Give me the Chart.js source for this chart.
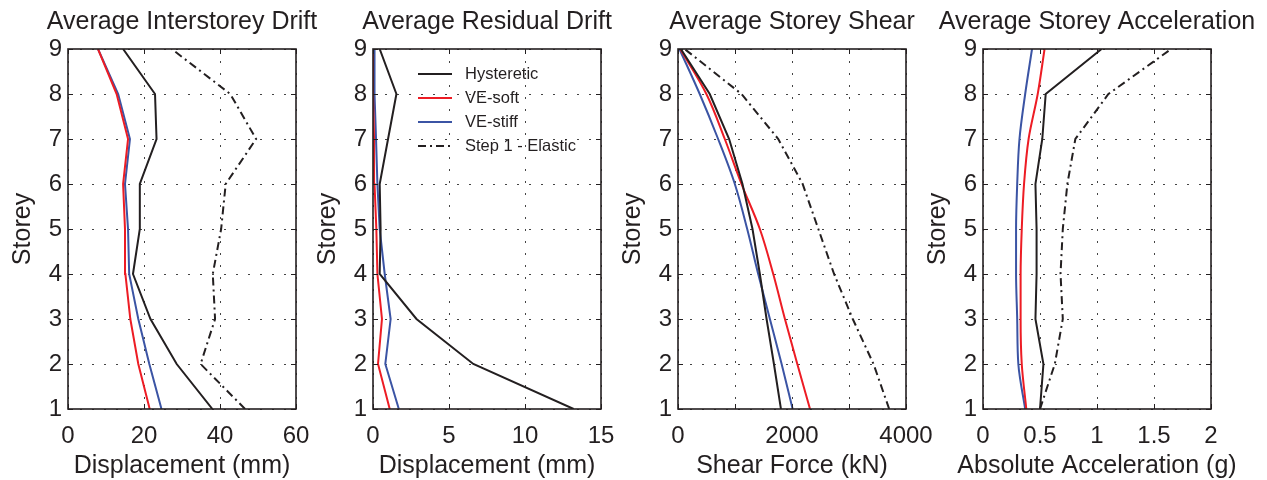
<!DOCTYPE html>
<html><head><meta charset="utf-8">
<script src="https://cdn.jsdelivr.net/npm/chart.js@4/dist/chart.umd.min.js"></script>
<style>
html,body{margin:0;padding:0;background:#fff;overflow:hidden;width:1267px;height:480px}
.p{position:absolute;top:0;width:340px;height:480px}
</style></head><body>
<div class="p" style="left:0"><canvas id="c1" width="340" height="480"></canvas></div>
<div class="p" style="left:305px"><canvas id="c2" width="340" height="480"></canvas></div>
<div class="p" style="left:610px"><canvas id="c3" width="340" height="480"></canvas></div>
<div class="p" style="left:915px"><canvas id="c4" width="340" height="480"></canvas></div>
<script>
// ---- data (storey 1..9) ----
const storeys = [1, 2, 3, 4, 5, 6, 7, 8, 9];
const seriesNames = ['Hysteretic', 'VE-soft', 'VE-stiff', 'Step 1 - Elastic'];
const panelTitles = ['Average Interstorey Drift', 'Average Residual Drift', 'Average Storey Shear', 'Average Storey Acceleration'];
const xTitles = ['Displacement (mm)', 'Displacement (mm)', 'Shear Force (kN)', 'Absolute Acceleration (g)'];

const driftHyst    = [38.0, 28.6, 21.7, 17.1, 18.9, 18.9, 23.3, 22.9, 14.5];
const driftSoft    = [21.5, 18.5, 16.4, 15.1, 15.0, 14.5, 15.8, 12.8, 7.9];
const driftStiff   = [24.6, 21.4, 18.5, 16.1, 15.8, 15.0, 16.3, 13.2, 7.9];
const driftElastic = [46.6, 34.9, 38.7, 38.1, 40.3, 41.5, 49.5, 42.7, 27.3];

const resHyst  = [13.2, 6.6, 2.86, 0.44, 0.5, 0.44, 0.99, 1.54, 0.44];
const resSoft  = [1.1, 0.33, 0.59, 0.29, 0.22, 0.1, 0.07, 0.0, 0.0];
const resStiff = [1.7, 0.81, 1.16, 0.77, 0.44, 0.29, 0.2, 0.1, 0.1];

const shearHyst    = [1806, 1683, 1554, 1436, 1307, 1131, 897, 557, 50];
const shearSoft    = [2316, 2093, 1876, 1671, 1436, 1114, 821, 498, 40];
const shearStiff   = [2011, 1818, 1612, 1407, 1214, 997, 704, 381, 25];
const shearElastic = [3705, 3430, 3066, 2738, 2462, 2187, 1759, 1114, 117];

const accHyst    = [0.50, 0.53, 0.46, 0.47, 0.47, 0.46, 0.52, 0.55, 1.04];
const accSoft    = [0.38, 0.34, 0.33, 0.33, 0.34, 0.36, 0.40, 0.48, 0.54];
const accStiff   = [0.37, 0.31, 0.30, 0.29, 0.29, 0.30, 0.32, 0.37, 0.43];
const accElastic = [0.50, 0.63, 0.70, 0.68, 0.70, 0.74, 0.81, 1.10, 1.65];

const xMax   = [60, 15, 4000, 2];
const xStep  = [20, 5, 1000, 0.5];
const xLabelEvery = [20, 5, 2000, 0.5];
const yTicks = [1, 9, 1];

// ---- styles ----
const FONT = '"Liberation Sans", Arial, Helvetica, sans-serif';
const INK = '#231f20';
const styles = [
  {color: '#231f20', dash: []},
  {color: '#ed1c24', dash: []},
  {color: '#3b54a4', dash: []},
  {color: '#231f20', dash: [8, 4, 2, 4]}
];

function mk(vals, k, smooth) {
  return {
    label: seriesNames[k],
    data: storeys.map((s, i) => ({x: vals[i], y: s})),
    borderColor: styles[k].color,
    borderDash: styles[k].dash,
    borderWidth: 2,
    pointRadius: 0,
    fill: false,
    tension: 0,
    cubicInterpolationMode: smooth ? 'monotone' : 'default'
  };
}

const framePlugin = {
  id: 'frame',
  afterDatasetsDraw(chart, args, opts) {
    const {ctx, chartArea: a, scales} = chart;
    ctx.save();
    ctx.strokeStyle = INK;
    ctx.lineWidth = 1;
    const L = 5;
    ctx.beginPath();
    scales.x.ticks.forEach(t => {
      const p = Math.round(scales.x.getPixelForValue(t.value)) + 0.5;
      ctx.moveTo(p, a.bottom); ctx.lineTo(p, a.bottom - L);
      ctx.moveTo(p, a.top); ctx.lineTo(p, a.top + L);
    });
    scales.y.ticks.forEach(t => {
      const p = Math.round(scales.y.getPixelForValue(t.value)) + 0.5;
      ctx.moveTo(a.left, p); ctx.lineTo(a.left + L, p);
      ctx.moveTo(a.right, p); ctx.lineTo(a.right - L, p);
    });
    ctx.stroke();
    ctx.lineWidth = 1.6;
    ctx.strokeRect(a.left, a.top, a.right - a.left, a.bottom - a.top);
    ctx.fillStyle = INK;
    ctx.font = '25px ' + FONT;
    ctx.textAlign = 'center';
    ctx.textBaseline = 'alphabetic';
    const cx = (a.left + a.right) / 2;
    ctx.fillText(opts.text, cx, 29);
    ctx.textBaseline = 'middle';
    ctx.fillText(opts.xtitle, cx, 466);
    if (opts.legend) {
      ctx.font = '16.5px ' + FONT;
      ctx.textAlign = 'left';
      ctx.textBaseline = 'middle';
      const x0 = a.left + 45, x1 = a.left + 79, tx = a.left + 92;
      chart.data.datasets.forEach((d, i) => {
        const y = a.top + 25 + i * 24;
        ctx.save();
        ctx.strokeStyle = d.borderColor;
        ctx.lineWidth = 2;
        ctx.setLineDash(d.borderDash || []);
        ctx.beginPath(); ctx.moveTo(x0, y); ctx.lineTo(x1, y); ctx.stroke();
        ctx.restore();
        ctx.fillStyle = INK;
        ctx.fillText(d.label, tx, y);
      });
    }
    ctx.restore();
  }
};

function makeChart(id, idx, datasets, legend) {
  const every = xLabelEvery[idx];
  new Chart(document.getElementById(id), {
    type: 'line',
    data: {datasets},
    options: {
      responsive: false,
      animation: false,
      indexAxis: 'y',
      layout: {padding: {top: 49, right: 340 - 296, left: 0, bottom: 0}},
      plugins: {
        legend: {display: false},
        tooltip: {enabled: false},
        frame: {text: panelTitles[idx], xtitle: xTitles[idx], legend}
      },
      scales: {
        x: {
          type: 'linear', position: 'bottom',
          min: 0, max: xMax[idx],
          border: {display: false, dash: [2, 10]},
          grid: {color: '#444', lineWidth: 1, drawTicks: false},
          ticks: {
            stepSize: xStep[idx], color: INK, padding: 13,
            font: {family: FONT, size: 24},
            maxRotation: 0, autoSkip: false,
            callback: v => (Math.abs(v / every - Math.round(v / every)) < 1e-9) ? String(v) : ''
          },
          title: {display: false},
          afterFit: s => { s.height = 71; s.paddingLeft = 0; s.paddingRight = 0; }
        },
        y: {
          type: 'linear', position: 'left',
          min: yTicks[0], max: yTicks[1],
          border: {display: false, dash: [2, 10]},
          grid: {color: '#444', lineWidth: 1, drawTicks: false},
          ticks: {stepSize: yTicks[2], color: INK, padding: 6, font: {family: FONT, size: 24}},
          title: {display: true, text: 'Storey', color: INK, font: {family: FONT, size: 25}, padding: {top: 8, bottom: 0}},
          afterFit: s => { s.width = 68; s.paddingTop = 0; s.paddingBottom = 0; }
        }
      }
    },
    plugins: [framePlugin]
  });
}

makeChart('c1', 0, [mk(driftHyst, 0), mk(driftSoft, 1), mk(driftStiff, 2), mk(driftElastic, 3)], false);
makeChart('c2', 1, [mk(resHyst, 0), mk(resSoft, 1), mk(resStiff, 2), {label: seriesNames[3], data: [], borderColor: styles[3].color, borderDash: styles[3].dash, borderWidth: 2, pointRadius: 0}], true);
makeChart('c3', 2, [mk(shearHyst, 0), mk(shearSoft, 1, true), mk(shearStiff, 2, true), mk(shearElastic, 3)], false);
makeChart('c4', 3, [mk(accHyst, 0), mk(accSoft, 1, true), mk(accStiff, 2, true), mk(accElastic, 3)], false);
</script>
</body></html>
